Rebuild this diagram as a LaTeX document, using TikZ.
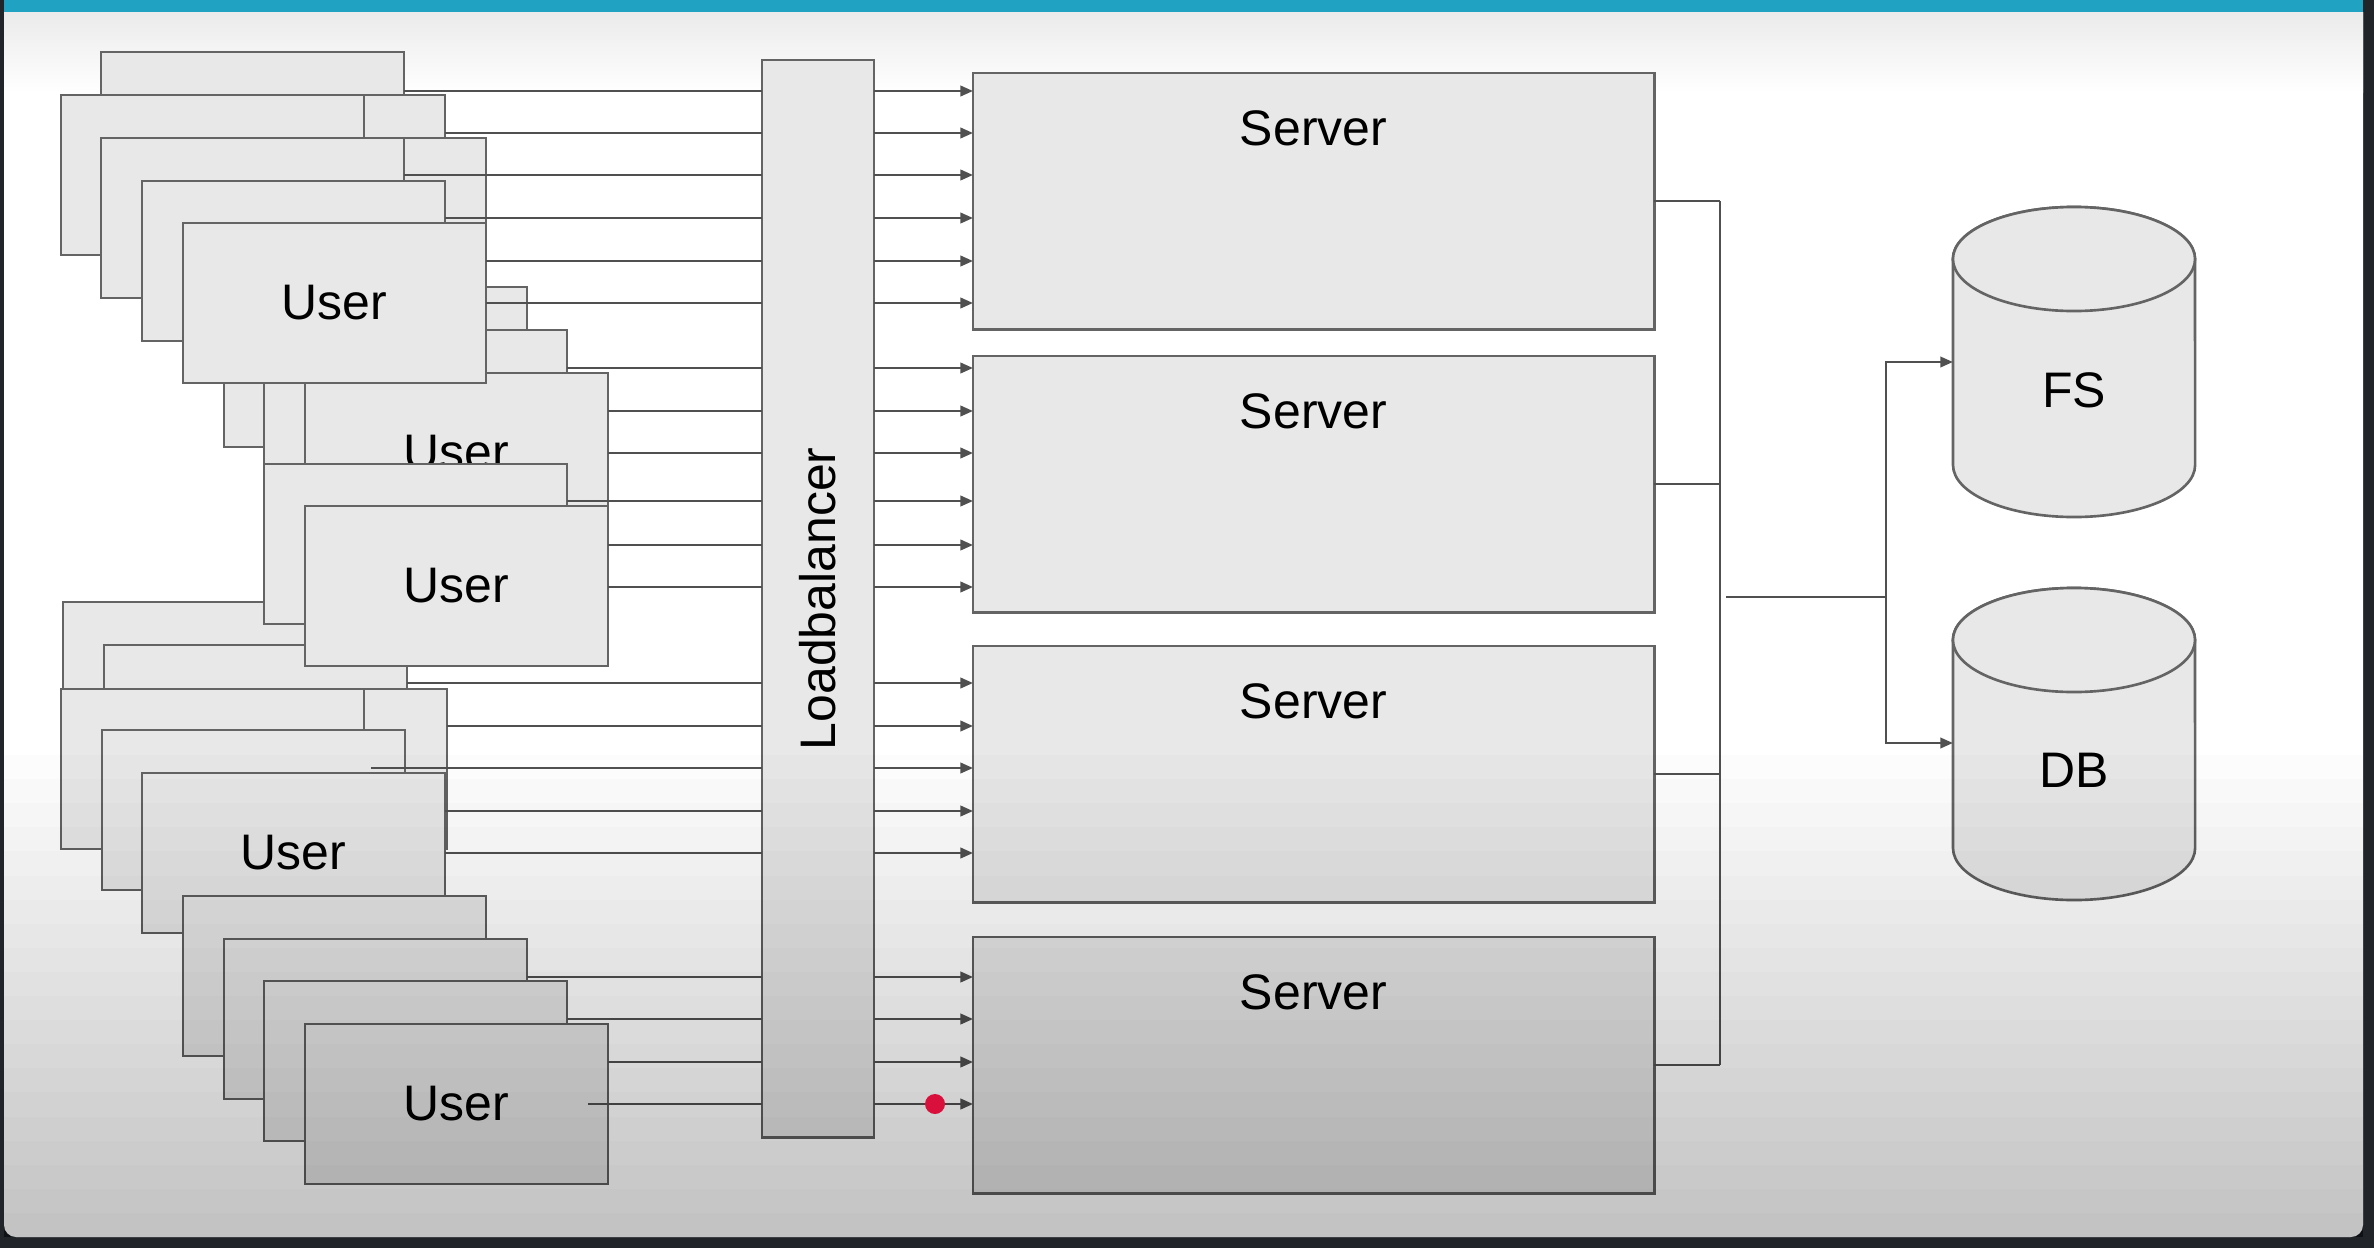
\documentclass[tikz,border=0pt]{standalone}
\usepackage{fontspec}
\setmainfont{Liberation Sans}
\usetikzlibrary{arrows.meta,calc}
\definecolor{framedark}{RGB}{33,37,41}
\definecolor{barteal}{RGB}{32,162,194}
\definecolor{boxfill}{RGB}{232,232,232}
\definecolor{boxline}{RGB}{100,100,100}
\definecolor{wirecol}{RGB}{80,80,80}
\definecolor{dotred}{RGB}{218,16,60}
\newcommand\lblfont{\fontsize{14.2pt}{17pt}\selectfont}
\begin{document}
\begin{tikzpicture}[x=0.01cm, y=-0.01cm,
  ubox/.style={draw=boxline, fill=boxfill, line width=0.75pt, minimum width=3.03cm, minimum height=1.6cm, anchor=north west, inner sep=0pt, outer sep=0pt, font=\lblfont},
  sbox/.style={draw=boxline, fill=boxfill, line width=0.75pt, minimum width=6.81cm, minimum height=2.565cm, anchor=north west, inner sep=0pt, outer sep=0pt},
  lbl/.style={font=\lblfont, inner sep=0pt, text=black},
  wire/.style={draw=wirecol, line width=0.65pt},
  arr/.style={wire, -{Triangle[length=3.6pt,width=3pt]}},
  cyl/.style={draw=boxline, fill=boxfill, line width=0.75pt},
  ghost/.style={inner sep=0pt, outer sep=0pt, minimum width=2.42cm}
]
\useasboundingbox (0,0) rectangle (2374,1248);
% slide background
\fill[framedark] (0,0) rectangle (2374,1248);
\fill[white, rounded corners=0.12cm] (4,0) rectangle (2363,1237);
\shade[top color=black!8, bottom color=white] (4,12) rectangle (2363,92);
\fill[barteal] (4,0) rectangle (2363,12);

% ---- users (back to front) ----
\node[ubox] (a) at (101,52) {};
\node[ubox] (c) at (142,95) {};
\node[ubox] (e) at (183,138) {};
\node[ubox] (h) at (224,287) {};
\node[ubox] (i) at (264,330) {};
\node[ubox] (j) at (305,373) {User};
\node[ubox] (b) at (61,95) {};
\node[ubox] (d) at (101,138) {};
\node[ubox] (f) at (142,181) {};
\node[ubox] (g) at (183,223) {User};
\node[ubox] (m) at (63,602) {};
\node[ubox] (o) at (104,645) {};
\node[ubox] (p) at (144,689) {};
\node[ubox] (k) at (264,464) {};
\node[ubox] (l) at (305,506) {User};
\node[ubox] (n) at (61,689) {};
\node[ubox] (q) at (102,730) {};
\node[ubox] (r) at (142,773) {User};
\node[ubox] (s) at (183,896) {};
\node[ubox] (t) at (224,939) {};
\node[ubox] (u) at (264,981) {};
\node[ubox] (v) at (305,1024) {User};

% ---- load balancer ----
\node[draw=boxline, fill=boxfill, line width=0.75pt, minimum width=1.12cm, minimum height=10.77cm, anchor=north west, inner sep=0pt, outer sep=0pt] (lb) at (762,60) {};
\node[lbl, rotate=90] (lbtxt) at (lb.center) {Loadbalancer};

% ---- servers ----
\node[sbox] (s1) at (973,73) {};
\node[sbox] (s2) at (973,356) {};
\node[sbox] (s3) at (973,646) {};
\node[sbox] (s4) at (973,937) {};
\node[lbl] (s1t) at (1313.5,128) {Server};
\node[lbl] (s2t) at (1313.5,411) {Server};
\node[lbl] (s3t) at (1313.5,701) {Server};
\node[lbl] (s4t) at (1313.5,992) {Server};

% ---- user -> load balancer ----
\coordinate (q0) at (371,768);
\coordinate (v0) at (588,1104);
\foreach \src/\yy in {a/91, c/133, d/175, f/218, g/261, g/303, i/368, j/411, j/453, k/501, l/545, l/587, o/683, p/726, r/811, r/853, t/977, u/1019, v/1062}
  \draw[wire] (\src.east |- 0,\yy) -- (lb.west |- 0,\yy);
\draw[wire] (q0) -- (lb.west |- q0);
\draw[wire] (v0) -- (lb.west |- v0);

% ---- load balancer -> servers ----
\foreach \dst/\yy in {s1/91, s1/133, s1/175, s1/218, s1/261, s1/303, s2/368, s2/411, s2/453, s2/501, s2/545, s2/587, s3/683, s3/726, s3/768, s3/811, s3/853, s4/977, s4/1019, s4/1062, s4/1104}
  \draw[arr] (lb.east |- 0,\yy) -- (\dst.west |- 0,\yy);

% ---- storage ----
\draw[cyl] (1953,259) -- (1953,465) arc[start angle=180, end angle=360, x radius=1.21cm, y radius=0.52cm] -- (2195,259) arc[start angle=0, end angle=180, x radius=1.21cm, y radius=0.52cm] -- cycle;
\draw[cyl] (2074,259) ellipse[x radius=1.21cm, y radius=0.52cm];
\draw[cyl] (1953,640) -- (1953,848) arc[start angle=180, end angle=360, x radius=1.21cm, y radius=0.52cm] -- (2195,640) arc[start angle=0, end angle=180, x radius=1.21cm, y radius=0.52cm] -- cycle;
\draw[cyl] (2074,640) ellipse[x radius=1.21cm, y radius=0.52cm];
\node[ghost, minimum height=3.1cm] (fs) at (2074,362) {};
\node[ghost, minimum height=3.12cm] (db) at (2074,743) {};
\node[lbl] (fst) at (2074,390) {FS};
\node[lbl] (dbt) at (2074,770) {DB};

% ---- servers -> storage ----
\coordinate (busx) at (1720,0);
\foreach \sv in {s1,s2,s3,s4}
  \draw[wire] (\sv.east) -- (\sv.east -| busx);
\draw[wire] (s1.east -| busx) -- (s4.east -| busx);
\coordinate (tap) at (1726,597);
\coordinate (split) at (1886,597);
\draw[wire] (tap) -- (split);
\draw[arr] (split) -- (split |- fs.west) -- (fs.west);
\draw[arr] (split) -- (split |- db.west) -- (db.west);

% ---- darkening towards the bottom ----
\foreach \ii in {0,...,19}
  \fill[black, fill opacity=0.01] (4,{755+\ii*24.1}) rectangle (2363,1237);

% ---- pointer dot ----
\node[circle, fill=dotred, minimum size=0.2cm, inner sep=0pt] (dot) at (935,1104) {};
\end{tikzpicture}
\end{document}
